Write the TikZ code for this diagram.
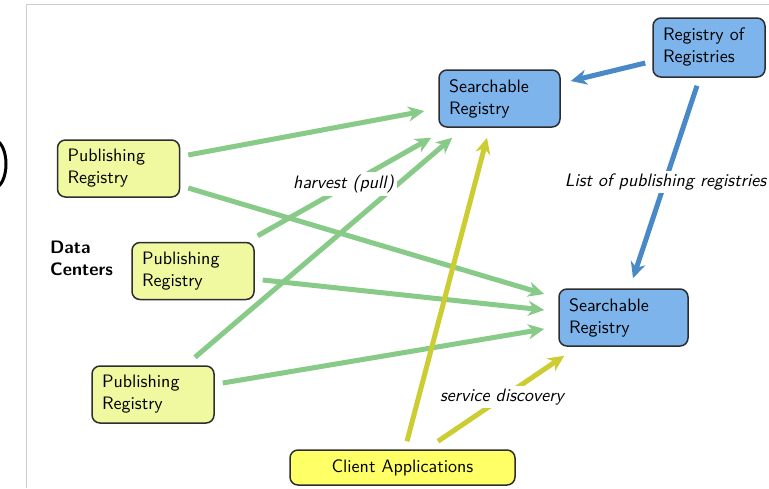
\documentclass[tikz,border=0pt]{standalone}
\usepackage{fontspec}
\setsansfont{lmsans10-regular.otf}[ItalicFont=lmsans10-oblique.otf, BoldFont=lmsans10-bold.otf]
\usetikzlibrary{arrows.meta}

\definecolor{pubFill}{RGB}{240,248,160}
\definecolor{clientFill}{RGB}{255,255,102}
\definecolor{searchFill}{RGB}{125,180,236}
\definecolor{harvestGreen}{RGB}{136,202,136}
\definecolor{discoveryYellow}{RGB}{204,204,51}
\definecolor{listBlue}{RGB}{74,137,200}
\definecolor{frameGray}{RGB}{205,205,205}
\definecolor{boxLine}{RGB}{45,45,45}

\newcommand*{\regFont}{\sffamily\fontsize{18}{22}\selectfont}
\newcommand*{\pageW}{769}
\newcommand*{\pageH}{488}

\tikzset{
  registry/.style={draw=boxLine, line width=1.5, rounded corners=8,
    align=left, inner xsep=10, minimum height=57, font=\regFont},
  pubreg/.style={registry, fill=pubFill, text width=102},
  searchreg/.style={registry, fill=searchFill},
  flow/.style={line width=5, -{Stealth[length=16, width=15, inset=5]}},
  harvest/.style={flow, harvestGreen},
  discovery/.style={flow, discoveryYellow},
  listing/.style={flow, listBlue},
  edgelabel/.style={fill=white, inner sep=3, font=\regFont\itshape},
}

\begin{document}
\begin{tikzpicture}[x=1pt, y=-1pt]
    \useasboundingbox (0,0) rectangle (\pageW,\pageH);

    % slide frame and cut-off glyph
    \draw [frameGray, line width=1] (26,\pageH) -- (26,4) -- (\pageW,4);
    \draw [line width=3] (-6,164) ellipse [x radius=12, y radius=24];

    % data centers
    \node [pubreg] (pub1) at (118.5,168.5) {Publishing\\Registry};
    \node [pubreg] (pub2) at (193,271) {Publishing\\Registry};
    \node [pubreg] (pub3) at (153,394.5) {Publishing\\Registry};
    \node [anchor=west, inner sep=0, align=left, font=\regFont\bfseries] (dc) at (50,258) {Data\\Centers};

    % registries
    \node [searchreg, text width=101] (srch1) at (499.5,98.5) {Searchable\\Registry};
    \node [searchreg, text width=109] (srch2) at (623.5,317.5) {Searchable\\Registry};
    \node [searchreg, text width=92, minimum height=59] (ror) at (709,47.5) {Registry of\\Registries};
    \node [registry, fill=clientFill, align=center, minimum width=225, minimum height=35] (client) at (402.5,467.5) {Client Applications};

    % harvest arrows
    \foreach \a/\ax/\ay/\b/\bx/\by in {
        pub1.east/8/-13.5/srch1.west/-14/12.5,
        pub1.east/8/19.5/srch2.west/-14/-23.5,
        pub2.north east/3/-6/srch1.south west/-7/10,
        pub2.east/8/9/srch2.west/-14/-7.5,
        pub3.north/42/-8/srch1.south west/14/10,
        pub3.east/8/-11.5/srch2.west/-14/11.5} {
        \draw [harvest] ([shift={(\ax,\ay)}]\a) -- ([shift={(\bx,\by)}]\b);
    }

    % client arrows
    \draw [discovery] ([shift={(4.5,-8)}]client.north) -- ([shift={(-12.5,10)}]srch1.south);
    \draw [discovery] ([shift={(35.5,-8)}]client.north) -- ([shift={(6,9)}]srch2.south west);

    % registry of registries
    \draw [listing] ([shift={(-7,15.5)}]ror.west) -- ([shift={(10,-17.5)}]srch1.east);
    \draw [listing] ([shift={(-12,8)}]ror.south) -- ([shift={(9.5,-10)}]srch2.north);

    % labels
    \node [edgelabel] (harvestLbl) at (343.5,184) {harvest (pull)};
    \node [edgelabel] (listLbl) at (665.5,182) {List of publishing registries};
    \node [edgelabel] (discLbl) at (502,397) {service discovery};

\end{tikzpicture}
\end{document}
